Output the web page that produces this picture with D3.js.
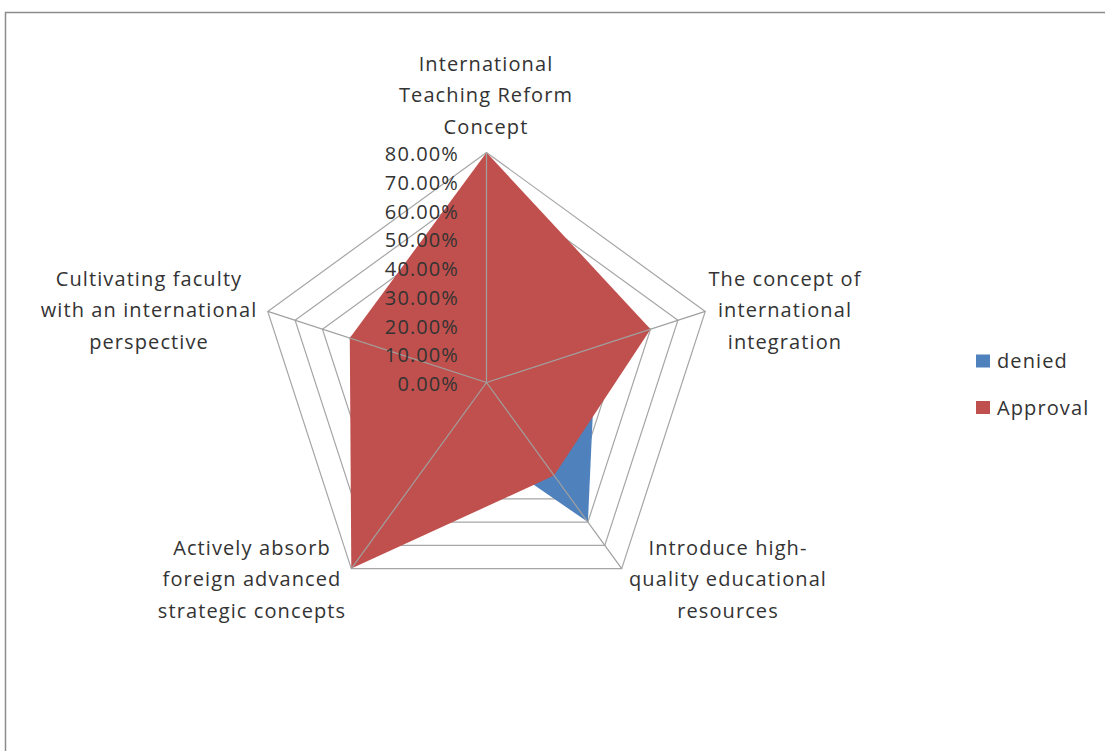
<!DOCTYPE html>
<html><head><meta charset="utf-8">
<script src="https://cdn.jsdelivr.net/npm/d3@7"></script>
<style>body{margin:0;background:#fff}svg{display:block}text{font-family:"Open Sans",sans-serif;fill:#333;font-size:20px;letter-spacing:1.1px}</style>
</head><body><svg id="c" width="1105" height="751"></svg>
<script>
const categories = [
  ["International","Teaching Reform","Concept"],
  ["The concept of","international","integration"],
  ["Introduce high-","quality educational","resources"],
  ["Actively absorb","foreign advanced","strategic concepts"],
  ["Cultivating faculty","with an international","perspective"]
];
const seriesNames = ["denied","Approval"];
const denied = [0.20, 0.40, 0.60, 0.20, 0.50];
const approval = [0.80, 0.60, 0.40, 0.80, 0.50];
const tickValues = [0,0.1,0.2,0.3,0.4,0.5,0.6,0.7,0.8];
const colors = ["#4F81BD","#C0504D"];

const svg = d3.select("#c");
svg.append("rect").attr("x",5.5).attr("y",12.5).attr("width",1200).attr("height",800)
  .attr("fill","#fff").attr("stroke","#8c8c8c").attr("stroke-width",1.5);

const cx = 486.5, cy = 382.5;
const r = d3.scaleLinear().domain([0,0.8]).range([0,230]);
const ang = d3.scaleLinear().domain([0,categories.length]).range([0,2*Math.PI]);
const pt = (i,v)=>[cx + r(v)*Math.sin(ang(i)), cy - r(v)*Math.cos(ang(i))];
const idx = d3.range(categories.length);

const g = svg.append("g");
// rings
tickValues.slice(1).forEach(t=>{
  g.append("polygon").attr("points", idx.map(i=>pt(i,t).join(",")).join(" "))
   .attr("fill","none").attr("stroke","#a6a6a6").attr("stroke-width",1.2);
});
// series
[denied, approval].forEach((s,k)=>{
  g.append("polygon").attr("points", idx.map(i=>pt(i,s[i]).join(",")).join(" "))
   .attr("fill",colors[k]).attr("stroke","none");
});
// spokes
idx.forEach(i=>{
  const p = pt(i,0.8);
  g.append("line").attr("x1",cx).attr("y1",cy).attr("x2",p[0]).attr("y2",p[1])
   .attr("stroke","#a0a0a0").attr("stroke-width",1.2);
});
// tick labels
tickValues.forEach(t=>{
  g.append("text").attr("x",459).attr("y",cy - r(t) + 8.5)
   .attr("text-anchor","end")
   .text(d3.format(".2%")(t));
});
// category labels (first-line baseline)
const labelPos = [[486,71],[785,286],[728,555],[252,555],[149,286]];
categories.forEach((lines,i)=>{
  const t = g.append("text").attr("text-anchor","middle");
  lines.forEach((l,j)=>t.append("tspan").attr("x",labelPos[i][0]).attr("y",labelPos[i][1]+j*31.3).text(l));
});
// legend
seriesNames.forEach((n,k)=>{
  const y = 361 + k*46.5;
  svg.append("rect").attr("x",976).attr("y",y-6.5).attr("width",14).attr("height",13).attr("fill",colors[k]);
  svg.append("text").attr("x",997).attr("y",y+7).text(n);
});
</script></body></html>
